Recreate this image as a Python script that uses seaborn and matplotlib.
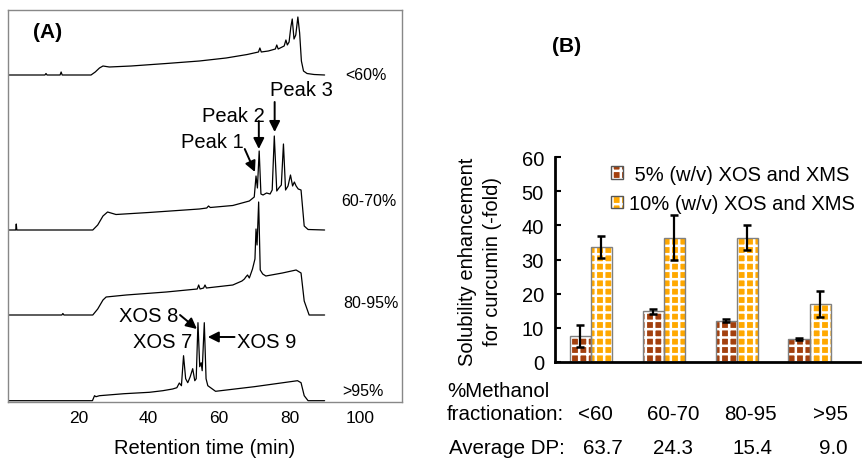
import numpy as np
import pandas as pd
import matplotlib
matplotlib.use("Agg")
import matplotlib.pyplot as plt
import seaborn as sns
from matplotlib.patches import Rectangle, Patch
from matplotlib.legend_handler import HandlerTuple

# ---------------- data ----------------
# Panel A: HPLC chromatograms (retention time in min, detector signal above each trace's baseline)
trace_names = ["<60%", "60-70%", "80-95%", ">95%"]

t_lt60 = [0, 10.5, 10.8, 11.1, 14.8, 15.1, 15.4, 23.6, 24.8, 26.0, 27.0, 28.8, 35, 45, 54.4, 62, 68,
          71.2, 71.6, 72.0, 74, 76.0, 76.4, 76.8, 78.5, 79.0, 79.4, 79.9, 80.4, 80.8, 81.3, 81.8,
          82.4, 82.9, 83.4, 84.0, 85.0, 87, 90]
s_lt60 = [0, 0, 1.5, 0, 0, 3, 0, 0, 3, 7, 9, 8, 9, 11.5, 14, 17, 20.5,
          23, 27, 23, 24, 26, 30, 26, 29, 35, 30, 33, 48, 56, 36, 40,
          58, 42, 14, 4, 1.5, 0.5, 0]

t_60_70 = [0, 2.2, 2.35, 2.5, 24.1, 25.5, 27.0, 28.3, 30.7, 40, 54.4, 56.5, 57, 57.5, 63.9, 68.6,
           70.0, 70.5, 70.9, 71.4, 71.9, 72.5, 73.5, 74.5, 75.1, 75.7, 76.4, 77.0, 77.7, 78.3,
           78.9, 79.6, 80.3, 80.9, 81.4, 81.9, 82.5, 83.3, 84.2, 85.3, 90]
s_60_70 = [0, 0, 6, 0, 0, 5, 14, 18, 15.5, 17.5, 21, 22, 24, 22.5, 24.5, 29,
           33, 54, 42, 79, 36, 35, 37, 36, 40, 94, 39, 42, 45, 86,
           40, 44, 55, 44, 48, 44, 41, 40, 4, 0.5, 0]

t_80_95 = [0, 15.3, 15.6, 15.9, 24.1, 25.5, 27.0, 27.9, 33.6, 45, 53.8, 54.2, 54.6, 55.6, 56.0,
           56.4, 63.9, 66.5, 67.2, 67.6, 68.1, 68.6, 69.5, 70.2, 70.5, 70.8, 71.25, 71.7, 72.4,
           73.3, 78, 81.9, 83.3, 84.2, 85.6, 90]
s_80_95 = [0, 0, 1.5, 0, 0, 6, 15, 18, 20, 23, 26, 30, 26, 27, 30,
           27, 30, 34, 36, 38, 40, 37, 46, 56, 86, 70, 113, 45, 41,
           39, 42, 45, 42, 14, 0, 0]

t_gt95 = [0, 24.0, 24.6, 25.0, 26.0, 33, 40.2, 44, 46.8, 48.0, 48.7, 49.3, 49.9, 50.5, 51.1, 51.8,
          52.5, 53.1, 53.5, 54.0, 54.5, 54.9, 55.2, 55.8, 56.3, 56.8, 59.0, 70, 82.3, 83.3, 84.2,
          85.3, 90]
s_gt95 = [0, 0, 5, 4, 5, 7, 8.4, 10, 11.7, 13, 17.7, 15, 45, 22, 18, 24,
          32, 20, 22, 78, 34, 38, 30, 78, 22, 15, 9.4, 14, 20, 18, 5,
          0, 0]

# Panel B: solubility enhancement for curcumin (-fold)
fractions = ["<60", "60-70", "80-95", ">95"]
avg_dp = ["63.7", "24.3", "15.4", "9.0"]
conc_labels = [" 5% (w/v) XOS and XMS", "10% (w/v) XOS and XMS"]
fold_5 = [7.6, 14.8, 12.1, 6.7]
err_5 = [3.3, 0.8, 0.5, 0.4]
fold_10 = [33.7, 36.4, 36.4, 17.0]
err_10 = [3.3, 6.5, 3.6, 3.9]

# ---------------- layout / style ----------------
W, H = 864, 460
trace_offsets = [327, 172, 87, 1.3]
brown = "#A3400E"
orange = "#FFA800"

sns.set_style("white")
plt.rcParams["font.family"] = ["Liberation Sans", "DejaVu Sans"]
plt.rcParams["hatch.linewidth"] = 1.8
plt.rcParams["text.color"] = "black"
plt.rcParams["axes.labelcolor"] = "black"
plt.rcParams["xtick.color"] = "black"
plt.rcParams["ytick.color"] = "black"

fig = plt.figure(figsize=(W / 100, H / 100), dpi=100)


def fx(x):
    return x / W


def fy(y):
    return 1 - y / H


# ---------------- Panel A ----------------
axA = fig.add_axes([fx(8), 57 / H, 394 / W, 392 / H])
rows = []
for name, tt, ss, off in zip(trace_names,
                             [t_lt60, t_60_70, t_80_95, t_gt95],
                             [s_lt60, s_60_70, s_80_95, s_gt95],
                             trace_offsets):
    for t, s in zip(tt, ss):
        rows.append({"trace": name, "time": t, "signal": s + off})
dfA = pd.DataFrame(rows)
sns.lineplot(data=dfA, x="time", y="signal", units="trace", estimator=None, sort=False,
             color="black", lw=0.9, ax=axA, legend=False)
axA.set_xlim(0, 112)
axA.set_ylim(0, 392)
axA.set_xticks([20, 40, 60, 80, 100])
axA.set_yticks([])
axA.tick_params(axis="x", direction="in", length=4, color="#888888", labelsize=12.5,
                pad=6, labelcolor="black")
for sp in axA.spines.values():
    sp.set_color("#888888")
    sp.set_linewidth(1)
axA.set_xlabel("Retention time (min)", fontsize=14.5, labelpad=9, color="black")
axA.set_ylabel("")

# trace labels
trace_label_pos = [(101.8, 327), (102.7, 201), (103.3, 100), (101.0, 11)]
for name, (lx, ly) in zip(trace_names, trace_label_pos):
    axA.text(lx, ly, name, fontsize=11.5, ha="center", va="center")

arrow = dict(arrowstyle="-|>", mutation_scale=16, lw=1.4, color="black", shrinkA=0, shrinkB=0)
axA.text(58.2, 260, "Peak 1", fontsize=14.5, ha="center", va="center")
axA.annotate("", xy=(70.2, 230), xytext=(67.3, 253), arrowprops=arrow)
axA.text(64.1, 286, "Peak 2", fontsize=14.5, ha="center", va="center")
axA.annotate("", xy=(71.3, 253), xytext=(71.3, 281), arrowprops=arrow)
axA.text(83.4, 313, "Peak 3", fontsize=14.5, ha="center", va="center")
axA.annotate("", xy=(75.8, 270), xytext=(75.8, 300), arrowprops=arrow)
axA.text(40.0, 86, "XOS 8", fontsize=14.5, ha="center", va="center")
axA.annotate("", xy=(53.7, 73), xytext=(48.9, 87), arrowprops=arrow)
axA.text(44.0, 60, "XOS 7", fontsize=14.5, ha="center", va="center")
axA.text(73.6, 60, "XOS 9", fontsize=14.5, ha="center", va="center")
axA.annotate("", xy=(56.8, 65), xytext=(64.4, 65), arrowprops=arrow)

fig.text(fx(48), fy(33), "(A)", fontsize=15, fontweight="bold", ha="center", va="center")

# ---------------- Panel B ----------------
axB = fig.add_axes([fx(555), 97 / H, 305 / W, 205 / H])
dfB = pd.DataFrame({
    "fraction": fractions * 2,
    "fold": fold_5 + fold_10,
    "err": err_5 + err_10,
    "conc": [conc_labels[0]] * len(fractions) + [conc_labels[1]] * len(fractions),
})
sns.barplot(data=dfB, x="fraction", y="fold", hue="conc", palette=[brown, orange],
            width=0.58, gap=0, errorbar=None, saturation=1, ax=axB, legend=False)

errs = [err_5, err_10]
bar_containers = list(axB.containers)
for ci, cont in enumerate(bar_containers):
    xs, ys = [], []
    for bar in cont.patches:
        bar.set_hatch("++")
        bar.set_edgecolor("white")
        bar.set_linewidth(0)
        axB.add_patch(Rectangle(bar.get_xy(), bar.get_width(), bar.get_height(),
                                fill=False, ec="#808080", lw=1, zorder=bar.get_zorder() + 0.1))
        xs.append(bar.get_x() + bar.get_width() / 2)
        ys.append(bar.get_height())
    axB.errorbar(xs, ys, yerr=errs[ci], fmt="none", ecolor="black", elinewidth=1.6,
                 capsize=3, capthick=1.8, zorder=5)

axB.set_xlim(-0.49, 3.69)
axB.set_ylim(0, 60)
axB.set_yticks([0, 10, 20, 30, 40, 50, 60])
axB.set_xticks([])
axB.tick_params(axis="y", direction="in", length=4, width=1.5, labelsize=14.5, pad=8,
                left=True, labelcolor="black")
axB.set_xlabel("")
axB.set_ylabel("")
for s in ["top", "right"]:
    axB.spines[s].set_visible(False)
for s in ["left", "bottom"]:
    axB.spines[s].set_color("black")
    axB.spines[s].set_linewidth(2)

fig.text(fx(468), fy(262), "Solubility enhancement", rotation=90, fontsize=14.5,
         ha="center", va="center")
fig.text(fx(493), fy(262), "for curcumin (-fold)", rotation=90, fontsize=14.5,
         ha="center", va="center")

handles = []
for col in [brown, orange]:
    handles.append((Patch(fc=col, ec="white", hatch="++", lw=0),
                    Patch(fill=False, ec="#555555", lw=1)))
fig.legend(handles, conc_labels, handler_map={tuple: HandlerTuple(ndivide=1)},
           loc="center left", bbox_to_anchor=(fx(611), fy(190)), frameon=False,
           fontsize=14.5, handlelength=0.6, handleheight=0.6, handletextpad=0.3,
           labelspacing=0.5, borderpad=0, borderaxespad=0)

fig.text(fx(567), fy(47), "(B)", fontsize=15, fontweight="bold", ha="center", va="center")

# bottom annotation table
fig.text(fx(447), fy(392), "%Methanol", fontsize=14.8, ha="left", va="center")
fig.text(fx(447), fy(415), "fractionation:", fontsize=14.8, ha="left", va="center")
fig.text(fx(449), fy(449), "Average DP:", fontsize=14.8, ha="left", va="center")
frac_x = [595, 673, 750, 830]
dp_x = [603, 673, 753, 833]
for lab, x in zip(fractions, frac_x):
    fig.text(fx(x), fy(415), lab, fontsize=14.8, ha="center", va="center")
for lab, x in zip(avg_dp, dp_x):
    fig.text(fx(x), fy(449), lab, fontsize=14.8, ha="center", va="center")

fig.savefig("out.png", dpi=100)
